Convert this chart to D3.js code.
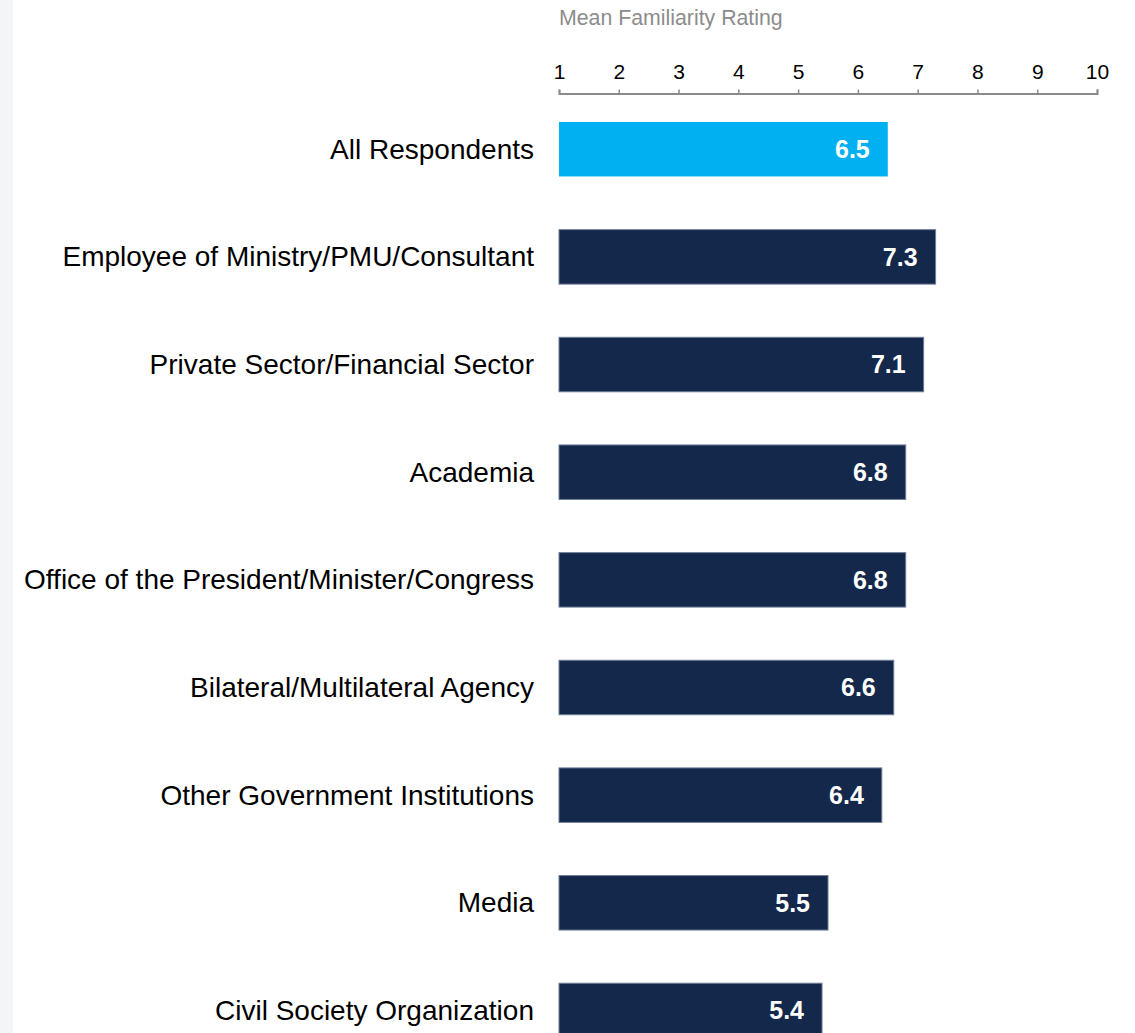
<!DOCTYPE html>
<html lang="en">
<head>
<meta charset="utf-8">
<title>Mean Familiarity Rating</title>
<script src="https://d3js.org/d3.v7.min.js"></script>
<style>
  html, body { margin: 0; padding: 0; background: #ffffff; }
  svg { display: block; font-family: "Liberation Sans", Arial, sans-serif; }
</style>
</head>
<body>
<div id="chart"></div>
<script>
// Data
var categories = [
  "All Respondents",
  "Employee of Ministry/PMU/Consultant",
  "Private Sector/Financial Sector",
  "Academia",
  "Office of the President/Minister/Congress",
  "Bilateral/Multilateral Agency",
  "Other Government Institutions",
  "Media",
  "Civil Society Organization"
];
var values = [6.5, 7.3, 7.1, 6.8, 6.8, 6.6, 6.4, 5.5, 5.4];
var tickValues = [1, 2, 3, 4, 5, 6, 7, 8, 9, 10];
var axisTitle = "Mean Familiarity Rating";

var w = 1135, h = 1033;

var svg = d3.select("#chart").append("svg")
  .attr("width", w)
  .attr("height", h);

// light strip on the left edge
svg.append("rect")
  .attr("x", 0).attr("y", 0)
  .attr("width", 13).attr("height", h)
  .style("fill", "#f4f5f7");

var x = d3.scaleLinear().domain([1, 10]).range([559, 1097]);
var y = d3.scaleBand()
  .domain(categories)
  .range([95.4, 1064.3])
  .paddingInner(0.494)
  .paddingOuter(0.247);

// axis title
svg.append("text")
  .attr("x", 559)
  .attr("y", 25)
  .style("font-size", "21.3px")
  .style("fill", "#8c8c8c")
  .text(axisTitle);

// top axis
var axis = svg.append("g")
  .attr("transform", "translate(0,93.5)")
  .call(d3.axisTop(x).tickValues(tickValues).tickSize(4).tickSizeOuter(4).tickPadding(11));

axis.select(".domain").style("stroke", "#8a8a8a").style("stroke-width", 2);
axis.selectAll(".tick line").style("stroke", "#8a8a8a").style("stroke-width", 1.5);
axis.selectAll(".tick text")
  .style("font-size", "21px")
  .style("fill", "#000")
  .style("font-family", "\"Liberation Sans\", Arial, sans-serif");

// bars
svg.selectAll("rect.bar")
  .data(values)
  .enter()
  .append("rect")
  .attr("class", "bar")
  .attr("x", x(1))
  .attr("y", function(d, i) { return y(categories[i]); })
  .attr("width", function(d) { return x(d) - x(1); })
  .attr("height", y.bandwidth())
  .style("fill", function(d, i) { return i === 0 ? "#00b0f0" : "#14284b"; })
  .style("stroke", function(d, i) { return i === 0 ? "none" : "#6f7d96"; })
  .style("stroke-width", 1);

// value labels
svg.selectAll("text.value")
  .data(values)
  .enter()
  .append("text")
  .attr("class", "value")
  .attr("x", function(d) { return x(d) - 18; })
  .attr("y", function(d, i) { return y(categories[i]) + y.bandwidth() / 2; })
  .attr("dy", "0.35em")
  .attr("text-anchor", "end")
  .style("font-size", "25px")
  .style("font-weight", "bold")
  .style("fill", "#ffffff")
  .text(function(d) { return d.toFixed(1); });

// category labels
svg.selectAll("text.cat")
  .data(categories)
  .enter()
  .append("text")
  .attr("class", "cat")
  .attr("x", 534)
  .attr("y", function(d) { return y(d) + y.bandwidth() / 2; })
  .attr("dy", "0.34em")
  .attr("text-anchor", "end")
  .style("font-size", "28px")
  .style("fill", "#000")
  .text(function(d) { return d; });
</script>
</body>
</html>
